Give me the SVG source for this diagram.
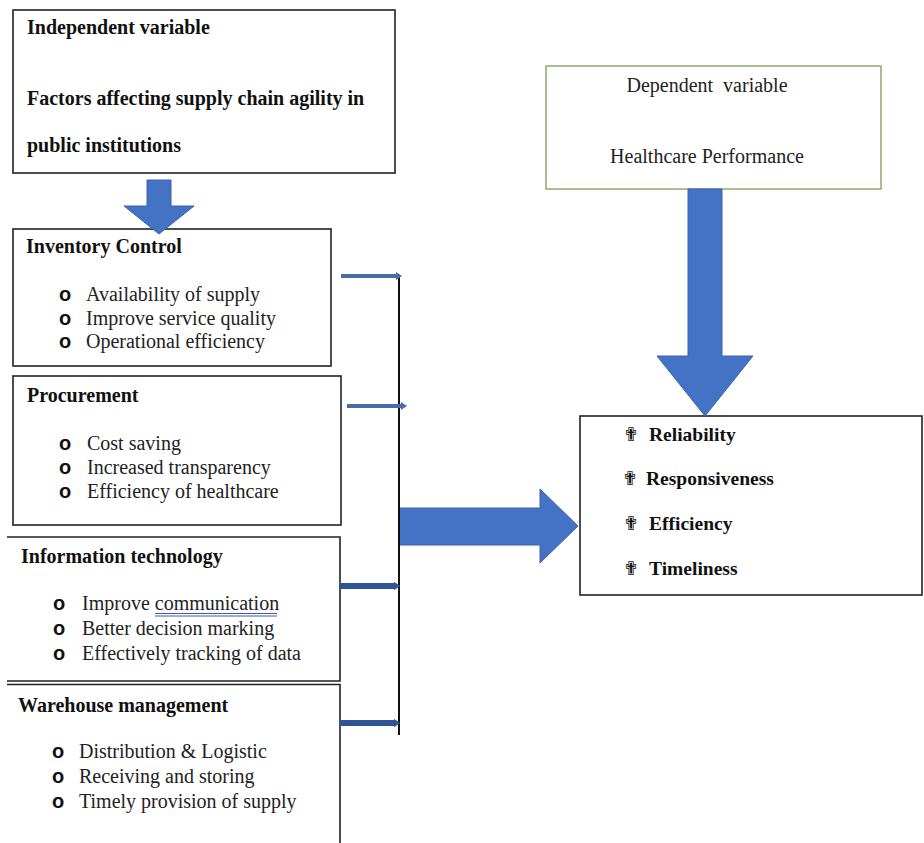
<svg xmlns="http://www.w3.org/2000/svg" width="924" height="843" viewBox="0 0 924 843">
<defs>
<style>
.box{fill:#fff;stroke:#222;stroke-width:1.6}
.ln{fill:none;stroke:#222;stroke-width:1.6}
.h{font-family:'Liberation Serif','DejaVu Serif',serif;font-weight:bold;font-size:20px;fill:#111}
.t{font-family:'Liberation Serif','DejaVu Serif',serif;font-size:20px;fill:#222}
.tb{font-family:'Liberation Serif','DejaVu Serif',serif;font-weight:bold;font-size:19.5px;fill:#111}
.bu{font-family:'Liberation Sans','DejaVu Sans',sans-serif;font-weight:bold;font-size:20px;fill:#111}
.cr{font-family:'DejaVu Sans',sans-serif;font-size:19px;fill:#111}
.big{fill:#4472C4;stroke:#3A62AA;stroke-width:1}
.a1{stroke:#4a6aa8;stroke-width:4;fill:none}
.a2{stroke:#2f5596;stroke-width:6;fill:none}
</style>
<marker id="m1" viewBox="0 0 6 8" refX="1" refY="4" markerWidth="2" markerHeight="2" orient="auto" markerUnits="strokeWidth"><path d="M0,0 L6,4 L0,8 z" fill="#4a6aa8"/></marker>
<marker id="m2" viewBox="0 0 6 8" refX="1" refY="4" markerWidth="1.2" markerHeight="1.4" orient="auto" markerUnits="strokeWidth"><path d="M0,0 L6,4 L0,8 z" fill="#2f5596"/></marker>
</defs>

<g id="independent">
<rect class="box" x="13" y="10" width="382" height="163"/>
<text class="h" x="27" y="34">Independent variable</text>
<text class="h" x="27" y="105">Factors affecting supply chain agility in</text>
<text class="h" x="27" y="152">public institutions</text>
</g>

<g id="inventory">
<rect class="box" x="13" y="229" width="318" height="137"/>
<text class="h" x="26" y="253">Inventory Control</text>
<text class="bu" x="59" y="301">o</text><text class="t" x="86" y="301">Availability of supply</text>
<text class="bu" x="59" y="325">o</text><text class="t" x="86" y="325">Improve service quality</text>
<text class="bu" x="59" y="348">o</text><text class="t" x="86" y="348">Operational efficiency</text>
</g>

<g id="procurement">
<rect class="box" x="13" y="376" width="328" height="149"/>
<text class="h" x="27" y="402">Procurement</text>
<text class="bu" x="59" y="450">o</text><text class="t" x="87" y="450">Cost saving</text>
<text class="bu" x="59" y="474">o</text><text class="t" x="87" y="474">Increased transparency</text>
<text class="bu" x="59" y="498">o</text><text class="t" x="87" y="498">Efficiency of healthcare</text>
</g>

<g id="information-technology">
<path class="ln" d="M7,537 H340 V681 H7"/>
<text class="h" x="21" y="563">Information technology</text>
<text class="bu" x="53" y="610">o</text><text class="t" x="82" y="610">Improve communication</text>
<path d="M155,613.5 H277 M155,616 H277" stroke="#3a5fb0" stroke-width="1" fill="none"/>
<text class="bu" x="53" y="635">o</text><text class="t" x="82" y="635">Better decision marking</text>
<text class="bu" x="53" y="660">o</text><text class="t" x="82" y="660">Effectively tracking of data</text>
</g>

<g id="warehouse">
<path class="ln" d="M7,684.5 H340 V843"/>
<text class="h" x="18" y="712">Warehouse management</text>
<text class="bu" x="52" y="758">o</text><text class="t" x="79" y="758">Distribution &amp; Logistic</text>
<text class="bu" x="52" y="783">o</text><text class="t" x="79" y="783">Receiving and storing</text>
<text class="bu" x="52" y="808">o</text><text class="t" x="79" y="808">Timely provision of supply</text>
</g>

<g id="dependent">
<rect x="546" y="66" width="335" height="123" fill="#fff" stroke="#8faa6a" stroke-width="1.5"/>
<text class="t" x="707" y="92" text-anchor="middle" xml:space="preserve">Dependent  variable</text>
<text class="t" x="707" y="163" text-anchor="middle">Healthcare Performance</text>
</g>

<g id="performance">
<rect class="box" x="580" y="416" width="342" height="179"/>
<text class="cr" x="623" y="441">✟</text><text class="tb" x="649" y="441">Reliability</text>
<text class="cr" x="622" y="485">✟</text><text class="tb" x="646" y="485">Responsiveness</text>
<text class="cr" x="623" y="530">✟</text><text class="tb" x="649" y="530">Efficiency</text>
<text class="cr" x="623" y="575">✟</text><text class="tb" x="649" y="575">Timeliness</text>
</g>

<g id="connectors">
<polygon class="big" points="147,180 171,180 171,206 194,206 159,234 124,206 147,206"/>
<polygon class="big" points="688,189 722,189 722,356 753,356 705,416 657,356 688,356"/>
<polygon class="big" points="399,508 540,508 540,489 578,526 540,563 540,545 399,545"/>
<line x1="399" y1="276" x2="399" y2="735" stroke="#111" stroke-width="2"/>
<line class="a1" x1="341" y1="276" x2="397" y2="276" marker-end="url(#m1)"/>
<line class="a1" x1="347" y1="406" x2="402" y2="406" marker-end="url(#m1)"/>
<line class="a2" x1="339" y1="586" x2="395" y2="586" marker-end="url(#m2)"/>
<line class="a2" x1="339" y1="723" x2="395" y2="723" marker-end="url(#m2)"/>
</g>
</svg>
